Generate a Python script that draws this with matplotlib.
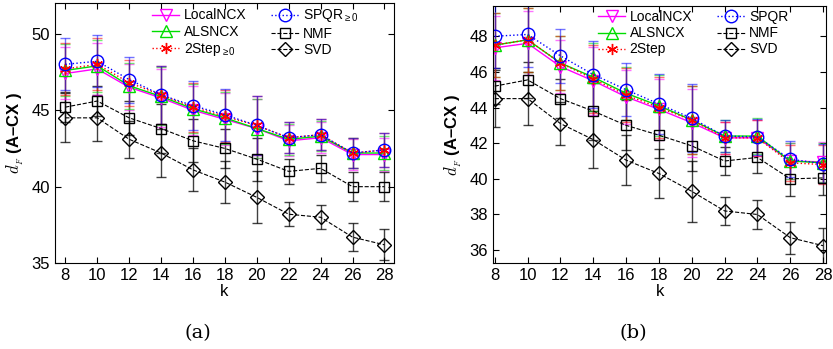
import matplotlib
matplotlib.use('Agg')
import matplotlib.pyplot as plt
import numpy as np

plt.rcParams['font.family'] = ['Liberation Sans', 'DejaVu Sans']
plt.rcParams['mathtext.fontset'] = 'custom'
plt.rcParams['mathtext.rm'] = 'Liberation Sans'
plt.rcParams['mathtext.it'] = 'Liberation Sans:italic'
plt.rcParams['mathtext.bf'] = 'Liberation Sans:bold'

k = [8, 10, 12, 14, 16, 18, 20, 22, 24, 26, 28]

# panel (a)
a_local = [47.4, 47.7, 46.5, 45.8, 45.0, 44.4, 43.8, 43.0, 43.2, 42.1, 42.1]
a_als = [47.6, 47.9, 46.6, 45.9, 45.1, 44.5, 43.8, 43.1, 43.3, 42.2, 42.2]
a_2step = [47.7, 48.0, 46.8, 46.0, 45.2, 44.6, 44.0, 43.2, 43.4, 42.2, 42.4]
a_spqr = [48.0, 48.2, 47.0, 46.0, 45.3, 44.7, 44.0, 43.2, 43.4, 42.2, 42.4]
a_nmf = [45.2, 45.6, 44.5, 43.8, 43.0, 42.5, 41.8, 41.0, 41.2, 40.0, 40.0]
a_svd = [44.5, 44.5, 43.1, 42.2, 41.1, 40.3, 39.3, 38.2, 38.0, 36.7, 36.2]
a_err_top = [1.7, 1.7, 1.5, 1.9, 1.6, 1.7, 1.9, 1.0, 1.0, 1.0, 1.1]
a_err_nmf = [1.0, 1.0, 1.1, 1.6, 1.4, 1.3, 1.4, 0.8, 0.9, 0.95, 0.95]
a_err_svd = [1.6, 1.5, 1.2, 1.6, 1.4, 1.4, 1.7, 0.8, 0.8, 0.9, 1.0]

# panel (b)
b_local = [47.35, 47.6, 46.3, 45.5, 44.6, 43.9, 43.15, 42.3, 42.3, 41.0, 40.95]
b_als = [47.5, 47.8, 46.5, 45.7, 44.8, 44.1, 43.3, 42.4, 42.4, 41.0, 40.9]
b_2step = [47.5, 47.8, 46.5, 45.6, 44.7, 44.0, 43.3, 42.3, 42.3, 40.9, 40.8]
b_spqr = [48.0, 48.1, 46.9, 45.85, 45.0, 44.2, 43.4, 42.4, 42.35, 41.1, 40.85]
b_nmf = [45.2, 45.55, 44.5, 43.8, 43.0, 42.45, 41.85, 41.0, 41.2, 40.0, 40.05]
b_svd = [44.5, 44.5, 43.1, 42.2, 41.05, 40.3, 39.3, 38.2, 38.0, 36.7, 36.25]
b_err_top = [1.8, 1.8, 1.5, 1.9, 1.5, 1.7, 1.9, 0.9, 1.0, 1.0, 1.1]
b_err_nmf = [1.0, 1.0, 1.1, 1.6, 1.4, 1.3, 1.4, 0.8, 0.9, 0.95, 0.95]
b_err_svd = [1.6, 1.5, 1.2, 1.6, 1.4, 1.4, 1.7, 0.8, 0.8, 0.9, 1.0]


def panel(ax, local, als, step, spqr, nmf, svd, e_top, e_nmf, e_svd, sub, lx):
    # error bars first
    ax.errorbar(k, nmf, yerr=e_nmf, fmt='none', ecolor='k', elinewidth=1, capsize=3.5, alpha=0.75)
    ax.errorbar(k, svd, yerr=e_svd, fmt='none', ecolor='k', elinewidth=1, capsize=3.5, alpha=0.75)
    for y, c in [(local, 'magenta'), (als, '#00dd00'), (step, 'red'), (spqr, 'blue')]:
        ax.errorbar(k, y, yerr=e_top, fmt='none', ecolor=c, elinewidth=1, capsize=3.5, alpha=0.55)

    ax.plot(k, local, '-', color='magenta', marker='v', mfc='none', ms=8, lw=1, label='LocalNCX')
    ax.plot(k, als, '-', color='#00dd00', marker='^', mfc='none', ms=8, lw=1, label='ALSNCX')
    ax.plot(k, step, ':', color='red', marker=(6, 2, 0), ms=8, lw=1, label='2Step' + sub)
    ax.plot(k, spqr, ':', color='blue', marker='o', mfc='none', ms=9, lw=1, label='SPQR' + sub)
    ax.plot(k, nmf, '--', color='k', marker='s', mfc='none', ms=7, lw=0.8, label='NMF')
    ax.plot(k, svd, '--', color='k', marker='D', mfc='none', ms=7, lw=0.8, label='SVD')

    ax.set_xticks(k)
    ax.tick_params(direction='in', top=True, right=True, labelsize=12, length=4)
    ax.set_xlabel('k', fontsize=12, labelpad=1)
    ax.set_ylabel(r'$d_{_F}$ (A–CX )', fontsize=12, fontweight='bold', math_fontfamily='cm')
    leg = ax.legend(ncol=2, frameon=False, loc='upper center', bbox_to_anchor=(lx, 1.01),
                    fontsize=10, handlelength=2.0, columnspacing=1.8, handletextpad=0.3,
                    labelspacing=0.15, borderaxespad=0.1)
    return leg


fig = plt.figure(figsize=(8.33, 3.49), dpi=100)

ax1 = fig.add_axes([0.066, 0.246, 0.407, 0.745])
panel(ax1, a_local, a_als, a_2step, a_spqr, a_nmf, a_svd,
      a_err_top, a_err_nmf, a_err_svd, r'$_{\geq 0}$', 0.59)
ax1.set_xlim(7.35, 28.6)
ax1.set_ylim(35, 52)
ax1.set_yticks([35, 40, 45, 50])

ax2 = fig.add_axes([0.592, 0.246, 0.400, 0.737])
panel(ax2, b_local, b_als, b_2step, b_spqr, b_nmf, b_svd,
      b_err_top, b_err_nmf, b_err_svd, '', 0.6)
ax2.set_xlim(7.9, 28.2)
ax2.set_ylim(35.27, 49.7)
ax2.set_yticks([36, 38, 40, 42, 44, 46, 48])

fig.text(0.237, 0.03, '(a)', ha='center', fontsize=14, family='DejaVu Serif')
fig.text(0.76, 0.03, '(b)', ha='center', fontsize=14, family='DejaVu Serif')

fig.savefig('out.png', dpi=100)
